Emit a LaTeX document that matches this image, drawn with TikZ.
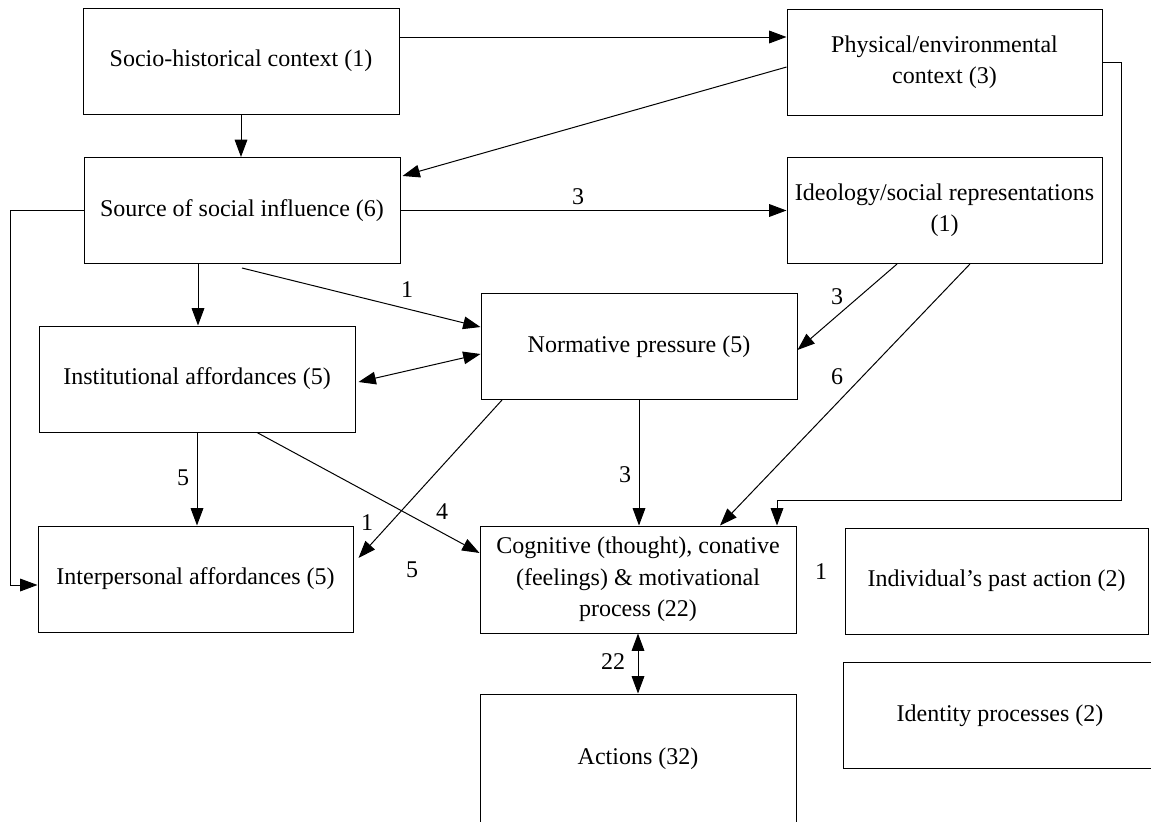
\documentclass[tikz,border=0pt]{standalone}
\usepackage{fontspec}
\setmainfont{Liberation Serif}
\usetikzlibrary{arrows.meta}

\tikzset{every picture/.style={line width=0.75pt}}
\tikzset{
  box/.style={draw, minimum width=237pt, minimum height=79.5pt, align=center, inner sep=2pt, font=\fontsize{18}{23.5}\selectfont},
  lbl/.style={inner sep=0.75pt, font=\fontsize{18}{22}\selectfont},
  arr/.style={-{Triangle[length=13pt,width=9.5pt]}},
  darr/.style={{Triangle[length=13pt,width=9.5pt]}-{Triangle[length=13pt,width=9.5pt]}}
}

\begin{document}
\begin{tikzpicture}[x=0.75pt,y=0.75pt,yscale=-1,xscale=1]
\useasboundingbox (0,0) rectangle (1151,821);
\clip (0,0) rectangle (1151,821);

%Shape: Rectangle
\draw (241,61) node [box] (soc) {Socio-historical context (1)};
%Shape: Rectangle
\draw (944.5,62.5) node [box, minimum width=236.25pt] (phys) {Physical/environmental\\context (3)};
%Shape: Rectangle
\draw (242,210.5) node [box] (src) {Source of social influence (6)};
%Shape: Rectangle
\draw (944.5,210.5) node [box, minimum width=236.25pt] (ideo) {Ideology/social representations\\(1)};
%Shape: Rectangle
\draw (639,346.5) node [box] (norm) {Normative pressure (5)};
%Shape: Rectangle
\draw (197,379) node [box] (inst) {Institutional affordances (5)};
%Shape: Rectangle
\draw (195.5,579) node [box, minimum width=236.25pt] (inter) {Interpersonal affordances (5)};
%Shape: Rectangle
\draw (638,579.5) node [box, minimum height=80.25pt] (cog) {Cognitive (thought), conative\\(feelings) \& motivational\\process (22)};
%Shape: Rectangle (cut at the bottom)
\draw (638,759) node [box, minimum height=97.5pt] (act) {Actions (32)};
%Shape: Rectangle
\draw (996.5,581) node [box, minimum width=227.25pt] (past) {Individual’s past action (2)};
%Shape: Rectangle (cut at the right)
\draw (1000,715.5) node [box, minimum width=235.5pt] (ident) {Identity processes (2)};

%Straight Lines
\coordinate (sa) at ([yshift=-18pt]soc.east);
\draw [arr] (sa) -- (sa -| phys.west);
%Straight Lines
\draw [arr] (soc.south) -- (soc.south |- src.north);
%Straight Lines
\draw [arr] ([yshift=3.4pt]phys.west) -- ([xshift=1.5pt,yshift=-25.9pt]src.east);
%Straight Lines
\draw [arr] (src.east) -- (src.east -| ideo.west);
%Straight Lines
\draw [arr] ([yshift=3pt]src.south) -- ([yshift=-14.6pt]norm.west);
%Straight Lines
\draw [arr] (src.west) -- ++(-73,0) |- ([yshift=4.5pt]inter.west);
%Straight Lines
\coordinate (sb) at ([xshift=-33pt]src.south);
\draw [arr] (sb) -- (sb |- inst.north);
%Straight Lines
\draw [darr] ([xshift=2.25pt,yshift=2.25pt]inst.east) -- ([yshift=5.6pt]norm.west);
%Straight Lines
\draw [arr] (inst.south) -- (inst.south |- inter.north);
%Straight Lines
\draw [arr] ([xshift=45pt]inst.south) -- ([yshift=-19.9pt]cog.west);
%Straight Lines
\draw [arr] ([xshift=-102.75pt]norm.south) -- ([xshift=3.75pt,yshift=-15.75pt]inter.east);
%Straight Lines
\draw [arr] (norm.south) -- (norm.south |- cog.north);
%Straight Lines
\draw [arr] ([xshift=-35.6pt]ideo.south) -- ([yshift=2.6pt]norm.east);
%Straight Lines
\draw [arr] ([xshift=19.1pt]ideo.south) -- ([xshift=61.5pt]cog.north);
%Straight Lines
\draw [arr] (phys.east) -- ++(19,0) -- ++(0,438) -| ([xshift=104.25pt]cog.north);
%Straight Lines
\draw [darr] (cog.south) -- (cog.south |- act.north);

% Text Node
\draw (578,197) node [lbl] (n1) {3};
% Text Node
\draw (407,290) node [lbl] (n2) {1};
% Text Node
\draw (837,297) node [lbl] (n3) {3};
% Text Node
\draw (837,377) node [lbl] (n4) {6};
% Text Node
\draw (183,478) node [lbl] (n5) {5};
% Text Node
\draw (625,475) node [lbl] (n6) {3};
% Text Node
\draw (367,523) node [lbl] (n7) {1};
% Text Node
\draw (442,512) node [lbl] (n8) {4};
% Text Node
\draw (412,570) node [lbl] (n9) {5};
% Text Node
\draw (613,662) node [lbl] (n10) {22};
% Text Node
\draw (821,572) node [lbl] (n11) {1};

\end{tikzpicture}
\end{document}
